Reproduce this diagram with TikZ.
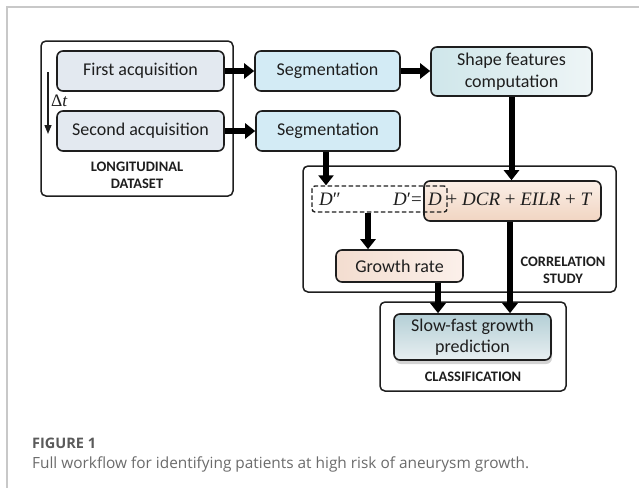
\documentclass[tikz,border=0pt]{standalone}
\usepackage{fontspec}
\setmainfont{Carlito}
\newfontfamily\capfont{Open Sans}
\newfontfamily\eqfont{Liberation Serif}
\usetikzlibrary{arrows.meta,shadows,calc}
\definecolor{framegray}{HTML}{C8C8C8}
\definecolor{acqfill}{HTML}{E3E9F0}
\definecolor{segfill}{HTML}{D3EBF5}
\definecolor{shapeL}{HTML}{CFE6EA}
\definecolor{shapeR}{HTML}{EEF5F6}
\definecolor{orT}{HTML}{FBEFE7}
\definecolor{orB}{HTML}{F1D5C2}
\definecolor{grL}{HTML}{F3DDD0}
\definecolor{grR}{HTML}{FBF0EA}
\definecolor{slT}{HTML}{B4CFD6}
\definecolor{slB}{HTML}{E8EFF1}
\definecolor{capgray}{HTML}{6B6B6B}
\definecolor{capdark}{HTML}{5A5A5A}
\definecolor{ink}{HTML}{1E1E1E}
\newcommand{\iv}[1]{{\itshape #1}}
\begin{document}
\begin{tikzpicture}[x=1pt,y=-1pt,
  box/.style={draw=ink, rounded corners=6pt, line width=1.6pt, inner sep=0pt,
    align=center, text=ink, font=\fontsize{18}{21.5}\selectfont},
  container/.style={draw=ink, rounded corners=5pt, line width=1.5pt, inner sep=0pt},
  lbl/.style={align=center, text=ink, font=\bfseries\fontsize{14.5}{17}\selectfont},
  bigarrow/.style={line width=6pt, -{Triangle[width=15pt,length=10pt]}},
  mathlbl/.style={text=ink, inner sep=0pt, font=\eqfont\fontsize{19}{21}\selectfont}
]
\useasboundingbox (0,0) rectangle (639,488);
% page frame
\draw[framegray, line width=1.5pt] (639,7) -- (7,7) -- (7,488);

% containers
\node[container, minimum width=192pt, minimum height=155pt] (long) at (137,118.5) {};
\node[container, minimum width=313pt, minimum height=126pt] (corr) at (459.5,229) {};
\node[container, minimum width=186pt, minimum height=89pt] (class) at (473,346.5) {};

% boxes
\node[box, fill=acqfill, minimum width=167pt, minimum height=40pt] (first) at (140.5,71) {First acquisition};
\node[box, fill=acqfill, minimum width=167pt, minimum height=40pt] (second) at (140.5,131) {Second acquisition};
\node[box, fill=segfill, minimum width=145pt, minimum height=40pt] (seg1) at (327.5,71) {Segmentation};
\node[box, fill=segfill, minimum width=144pt, minimum height=40pt] (seg2) at (328,131) {Segmentation};
\node[box, left color=shapeL, right color=shapeR, minimum width=161pt, minimum height=49pt] (shape) at (511.5,71.5) {Shape features\\computation};
\node[box, top color=orT, bottom color=orB, minimum width=177pt, minimum height=40pt] (orange) at (512.5,201) {};
\node[draw=ink, dash pattern=on 4.5pt off 2.5pt, line width=1.4pt, rounded corners=3pt, minimum width=135pt, minimum height=26pt, inner sep=0pt] (dash) at (379.5,199) {};
\node[box, left color=grL, right color=grR, minimum width=127pt, minimum height=32pt] (growth) at (399.5,266) {Growth rate};
\node[box, top color=slT, bottom color=slB, drop shadow={shadow xshift=1pt, shadow yshift=-4pt, opacity=0.35}, minimum width=157pt, minimum height=46pt] (slow) at (472.5,337) {Slow-fast growth\\prediction};

% equation labels
\node[mathlbl, anchor=base west] (dpp) at (319,205.5) {\iv{D}″};
\node[mathlbl, anchor=base east] (dp) at (422,205.5) {\iv{D}′=};
\node[mathlbl, anchor=base west] (eq) at (428,205.5) {\iv{D} + \iv{DCR} + \iv{EILR} + \iv{T}};

% container labels
\node[lbl] (longlbl) at (137,175.5) {LONGITUDINAL\\DATASET};
\node[lbl] (corrlbl) at (563,270) {CORRELATION\\STUDY};
\node[lbl] (classlbl) at (473,377) {CLASSIFICATION};

% delta t
\coordinate (dtA) at (48,72);
\coordinate (dtB) at (48,134);
\draw[ink, line width=1.4pt, -{Triangle[width=7pt,length=9pt]}] (dtA) -- (dtB);
\node[mathlbl, anchor=base west, font=\eqfont\fontsize{17.5}{19}\selectfont] (dt) at (51,106) {Δ\iv{t}};

% arrows
\draw[bigarrow] (first.east) -- (seg1.west);
\draw[bigarrow] (second.east) -- (seg2.west);
\draw[bigarrow] (seg1.east) -- (shape.west |- seg1.east);
\draw[bigarrow] ([xshift=-2pt]seg2.south) -- ([xshift=-2pt]seg2.south |- dash.north);
\draw[bigarrow] (shape.south) -- (shape.south |- orange.north);
\draw[bigarrow] ([xshift=-11.5pt]dash.south) -- ([xshift=-11.5pt]dash.south |- growth.north);
\draw[bigarrow] ([xshift=38.5pt]growth.south) -- ([xshift=38.5pt]growth.south |- slow.north);
\draw[bigarrow] ([xshift=-2.5pt]orange.south) -- ([xshift=-2.5pt]orange.south |- slow.north);

% caption
\node[anchor=base west, inner sep=0pt, text=capdark, font=\capfont\bfseries\fontsize{14.5}{16}\selectfont] (fig) at (32,448) {FIGURE 1};
\node[anchor=base west, inner sep=0pt, text=capgray, font=\capfont\fontsize{15.4}{17}\selectfont] (cap) at (32,468) {Full workflow for identifying patients at high risk of aneurysm growth.};
\end{tikzpicture}
\end{document}
